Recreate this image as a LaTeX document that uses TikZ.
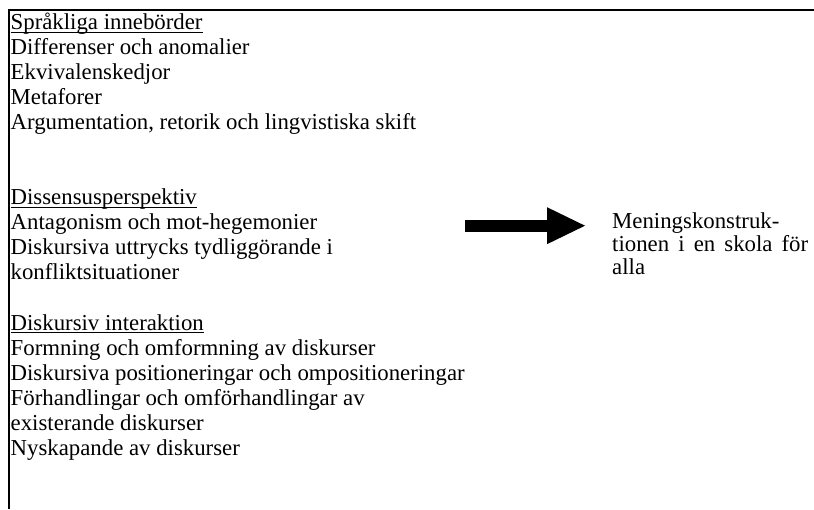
\documentclass[tikz,border=0pt]{standalone}
\usepackage{fontspec}
\setmainfont{Liberation Serif}
\usetikzlibrary{arrows.meta}

\newcommand\heading[1]{\setbox0\hbox{#1}\rlap{\rule[-3pt]{\wd0}{1.4pt}}\box0}

\begin{document}
\begin{tikzpicture}[x=1pt, y=1pt,
    textblock/.style={anchor=base west, inner sep=0pt, align=left, font=\fontsize{22.8}{25}\selectfont},
    resultblock/.style={anchor=base west, inner sep=0pt, align=left, font=\fontsize{22.8}{22.7}\selectfont},
    bigarrow/.style={line width=12pt, -{Triangle[length=38pt, width=37pt, line width=0pt]}}]
    \useasboundingbox (0, 0) rectangle (814, 509);

    \draw[line width=1.8pt] (814, 499.3) -- (8.8, 499.3) -- (8.8, 0);

    % base = baseline of the last line
    \node[textblock] at (10.5, 379) (inneborder) {\heading{Språkliga innebörder}\\
        Differenser och anomalier\\
        Ekvivalenskedjor\\
        Metaforer\\
        Argumentation, retorik och lingvistiska skift};
    \node[textblock] at (10.5, 229) (dissensus) {\heading{Dissensusperspektiv}\\
        Antagonism och mot-hegemonier\\
        Diskursiva uttrycks tydliggörande i\\
        konfliktsituationer};
    \node[textblock] at (10.5, 54) (interaktion) {\heading{Diskursiv interaktion}\\
        Formning och omformning av diskurser\\
        Diskursiva positioneringar och ompositioneringar\\
        Förhandlingar och omförhandlingar av\\
        existerande diskurser\\
        Nyskapande av diskurser};

    \node[resultblock] at (612, 234.6) (mening) {Meningskonstruk-\\
        \makebox[196pt][s]{tionen i en skola för}\\
        alla};

    \coordinate (pil) at (465, 283.3);
    \draw[bigarrow, shorten >=27pt] (pil) -- (pil -| mening.west);
\end{tikzpicture}
\end{document}
